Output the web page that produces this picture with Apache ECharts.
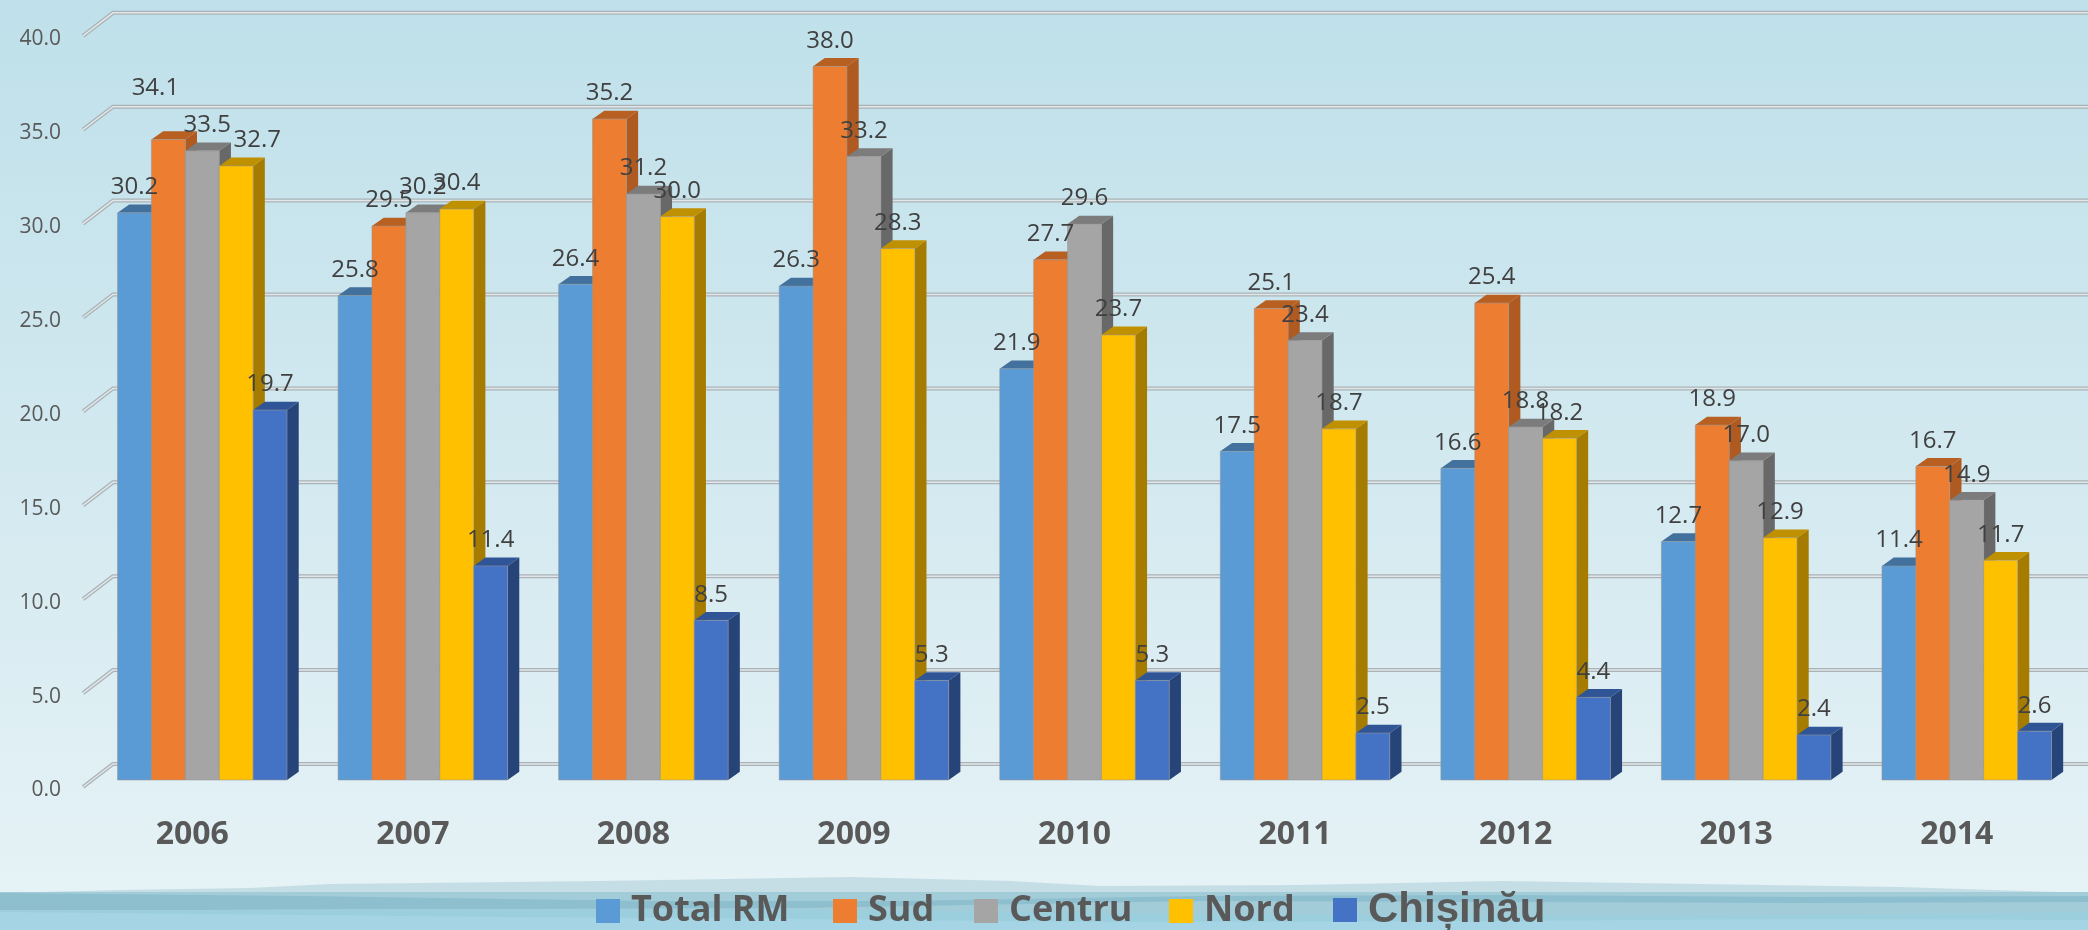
<!DOCTYPE html>
<html>
<head>
<meta charset="utf-8">
<title>Rata saraciei</title>
<style>
  html, body { margin: 0; padding: 0; background: #dcedf3; }
  #eChart { width: 2088px; height: 930px; }
</style>
<script src="https://cdn.jsdelivr.net/npm/echarts@6/dist/echarts.min.js"></script>
</head>
<body>
<div id="eChart"></div>
<script>
const years = ["2006", "2007", "2008", "2009", "2010", "2011", "2012", "2013", "2014"];
const yTicks = [0, 5, 10, 15, 20, 25, 30, 35, 40];

const totalRM = [30.2, 25.8, 26.4, 26.3, 21.9, 17.5, 16.6, 12.7, 11.4];
const sud = [34.1, 29.5, 35.2, 38.0, 27.7, 25.1, 25.4, 18.9, 16.7];
const centru = [33.5, 30.2, 31.2, 33.2, 29.6, 23.4, 18.8, 17.0, 14.9];
const nord = [32.7, 30.4, 30.0, 28.3, 23.7, 18.7, 18.2, 12.9, 11.7];
const chisinau = [19.7, 11.4, 8.5, 5.3, 5.3, 2.5, 4.4, 2.4, 2.6];

const seriesNames = ["Total RM", "Sud", "Centru", "Nord", "Chișinău"];
const seriesValues = [totalRM, sud, centru, nord, chisinau];

// front, top, side
const barColors = [
  ["#5b9bd5", "#41719c", "#3a6690"],
  ["#ed7d31", "#b85f22", "#ae5a21"],
  ["#a5a5a5", "#7c7c7c", "#686868"],
  ["#ffc000", "#bf9000", "#a67c00"],
  ["#4472c4", "#2f5597", "#264478"],
];

// the three labels someone dragged by hand in the original, [series, year]: [dx, dy]
const labelNudge = { "1-0": [-13, -26], "2-0": [5, 0], "3-0": [21, 0] };

const depthX = 11.7;
const depthY = -8.3;
const groupWidth = 169.5;
const barWidth = groupWidth / seriesNames.length;

function poly(points, fill, z2) {
  return { type: "polygon", shape: { points }, style: { fill }, z2, silent: true };
}

function renderBar(seriesIndex, params, api) {
  const cat = api.value(0);
  const val = api.value(1);
  const base = api.coord([cat, 0]);
  const top = api.coord([cat, val]);
  const x0 = base[0] - groupWidth / 2 + barWidth * seriesIndex;
  const x1 = x0 + barWidth;
  const y0 = base[1];
  const y1 = top[1];
  const c = barColors[seriesIndex];
  const nudge = labelNudge[seriesIndex + "-" + cat] || [0, 0];
  return {
    type: "group",
    children: [
      poly([[x1, y1], [x1 + depthX, y1 + depthY], [x1 + depthX, y0 + depthY], [x1, y0]], c[2], 1),
      poly([[x0, y1], [x0 + depthX, y1 + depthY], [x1 + depthX, y1 + depthY], [x1, y1]], c[1], 1),
      {
        type: "rect",
        shape: { x: x0, y: y1, width: barWidth, height: y0 - y1 },
        style: { fill: c[0], stroke: "rgba(150,150,150,0.55)", lineWidth: 1 },
        z2: 2,
      },
      {
        type: "text",
        x: (x0 + x1) / 2 + nudge[0],
        y: y1 - 25.5 + nudge[1],
        z2: 100,
        style: {
          text: val.toFixed(1),
          fill: "#404040",
          font: '24px "Open Sans"',
          align: "center",
          verticalAlign: "middle",
        },
      },
    ],
  };
}

function renderGridLine(params, api) {
  const y = api.coord([0, api.value(1)])[1];
  const pts = [[83, y + 7], [113, y - 16], [2088, y - 16]];
  return {
    type: "group",
    children: [
      { type: "polyline", shape: { points: pts }, style: { stroke: "#a9b3b7", lineWidth: 4, fill: "none" } },
      { type: "polyline", shape: { points: pts }, style: { stroke: "#e2e6e8", lineWidth: 1.5, fill: "none" } },
    ],
  };
}

const barSeries = seriesNames.map((name, s) => ({
  name,
  type: "custom",
  coordinateSystem: "cartesian2d",
  itemStyle: { color: barColors[s][0] },
  renderItem: (params, api) => renderBar(s, params, api),
  encode: { x: 0, y: 1 },
  data: seriesValues[s].map((v, i) => [i, v]),
  silent: true,
  z: 3,
}));

const legendLefts = [596, 833, 974, 1169, 1333];
const legends = seriesNames.map((name, s) => ({
  data: [name],
  left: legendLefts[s],
  top: s === 4 ? 889 : 893,
  padding: 0,
  icon: "rect",
  itemWidth: 24,
  itemHeight: 24,
  selectedMode: false,
  textStyle: {
    color: "#595959",
    fontWeight: "bold",
    fontFamily: s === 4 ? "Liberation Sans" : "Open Sans",
    fontSize: s === 4 ? 42 : 36,
    padding: [0, 0, 0, 6],
  },
}));

const waves = [
  { fill: "#c5dee5", points: [[0, 893], [120, 890], [250, 888], [330, 884], [600, 881], [850, 877], [1010, 881], [1100, 886], [1300, 885], [1500, 881], [1700, 884], [1900, 887], [2088, 893], [2088, 930], [0, 930]] },
  { fill: "#a3ccd9", points: [[0, 892], [2088, 892], [2088, 930], [0, 930]] },
  { fill: "#8dbfcf", points: [[0, 893], [300, 896], [650, 901], [900, 901], [1200, 896], [1500, 895], [1800, 897], [2088, 896], [2088, 902], [1800, 903], [1500, 902], [1200, 901], [800, 908], [500, 909], [200, 910], [0, 910]] },
  { fill: "#9ccfde", points: [[0, 911], [400, 909], [800, 910], [1200, 914], [1700, 916], [2088, 912], [2088, 930], [0, 930]] },
  { fill: "#a5d5e4", points: [[0, 912], [200, 914], [500, 917], [800, 919], [1100, 922], [1500, 921], [1800, 919], [2088, 920], [2088, 930], [0, 930]] },
];

const myChart = echarts.init(document.getElementById("eChart"), null, { renderer: "canvas" });

myChart.setOption({
  animation: false,
  backgroundColor: {
    type: "linear", x: 0, y: 0, x2: 0, y2: 1,
    colorStops: [
      { offset: 0, color: "#bfe0ea" },
      { offset: 0.5, color: "#d3e9f0" },
      { offset: 0.95, color: "#e5f2f6" },
      { offset: 1, color: "#e5f2f6" },
    ],
  },
  graphic: waves.map((w) => ({
    type: "polygon",
    silent: true,
    z: -10,
    shape: { points: w.points },
    style: { fill: w.fill },
  })),
  legend: legends,
  grid: { left: 92, top: 28.8, width: 1985, height: 751.2 },
  xAxis: {
    type: "category",
    data: years,
    axisLine: { show: false },
    axisTick: { show: false },
    axisLabel: {
      color: "#595959",
      fontFamily: "Open Sans",
      fontWeight: "bold",
      fontSize: 32,
      margin: 39,
      // labels sit a little left of the bar groups
      padding: [0, 20, 0, 0],
    },
  },
  yAxis: {
    type: "value",
    min: 0,
    max: 40,
    interval: 5,
    splitLine: { show: false },
    axisLine: { show: false },
    axisTick: { show: false },
    axisLabel: {
      color: "#595959",
      fontFamily: "Open Sans",
      fontSize: 21,
      margin: 31,
      verticalAlign: "top",
      formatter: (v) => v.toFixed(1),
    },
  },
  series: [
    {
      type: "custom",
      name: "grid",
      renderItem: renderGridLine,
      encode: { y: 1 },
      data: yTicks.map((t) => [0, t]),
      silent: true,
      z: 1,
    },
    ...barSeries,
  ],
});
</script>
</body>
</html>
